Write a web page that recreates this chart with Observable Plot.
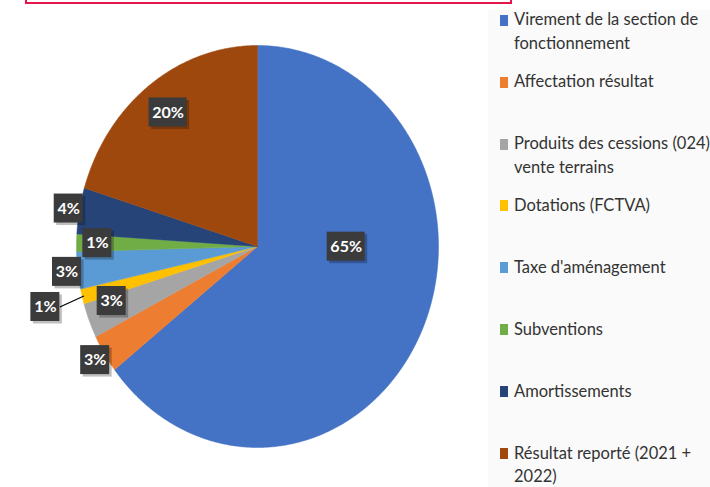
<!DOCTYPE html>
<html><head><meta charset="utf-8">
<script src="https://cdn.jsdelivr.net/npm/d3@7"></script>
<script src="https://cdn.jsdelivr.net/npm/@observablehq/plot@0.6"></script>
<style>
html,body{margin:0;padding:0;background:#fff;}
#wrap{position:relative;width:710px;height:487px;overflow:hidden;font-family:Lato,"Liberation Sans",sans-serif;}
#chart{position:absolute;left:0;top:0;}
#frame{position:absolute;left:25px;top:-22px;width:483px;height:22px;border:2px solid #e4174b;}
#panel{position:absolute;left:488px;top:10px;width:222px;height:477px;background:#fafafa;}
.item{position:absolute;left:500px;display:flex;align-items:flex-start;font-size:16.5px;color:#333;line-height:23.5px;}
.sw{width:8px;height:11px;margin-top:6.5px;margin-right:6px;flex:none;}
.txt{width:196px;}
</style></head>
<body><div id="wrap"><div id="panel"></div><div id="chart"></div><div id="frame"></div></div>
<script>
const categories = [
  "Virement de la section de fonctionnement",
  "Affectation résultat",
  "Produits des cessions (024) vente terrains",
  "Dotations (FCTVA)",
  "Taxe d'aménagement",
  "Subventions",
  "Amortissements",
  "Résultat reporté (2021 + 2022)"
];
const values = [64.5, 3.1, 2.8, 1.2, 3.0, 1.4, 3.7, 20.3];
const colors = ["#4472C4", "#ED7D31", "#A5A5A5", "#FFC000", "#5B9BD5", "#70AD47", "#264478", "#9E480E"];
// label layout (Excel-style manual placement): radius fraction and angle shift in degrees
const labelRadius = [0.49, 1.06, 0.85, 1.21, 1.06, 0.885, 1.06, 0.83];
const labelAngleShift = [-26, 0, 3, 0, 0, 0, 0, 0];

const total = d3.sum(values);
const rad = Math.PI / 180;
let acc = 0;
const slices = values.map((v, i) => {
  const a0 = acc / total * 360; acc += v; const a1 = acc / total * 360;
  return {name: categories[i], value: v, a0, a1, mid: (a0 + a1) / 2, i};
});
const px = a => Math.sin(a * rad), py = a => -Math.cos(a * rad);

const pts = [];
for (const s of slices) {
  pts.push({name: s.name, x: 0, y: 0});
  const n = Math.max(2, Math.ceil((s.a1 - s.a0) / 0.5));
  for (let k = 0; k <= n; ++k) {
    const a = s.a0 + (s.a1 - s.a0) * k / n;
    pts.push({name: s.name, x: px(a), y: py(a)});
  }
  pts.push({name: s.name, x: 0, y: 0});
}

const xr = [76, 438], yr = [45, 447];
const kx = (xr[1] - xr[0]) / 2, ky = (yr[1] - yr[0]) / 2;
const labels = slices.map(s => {
  const a = s.mid + labelAngleShift[s.i], r = labelRadius[s.i];
  const text = Math.round(s.value) + "%";
  const hw = (text.length === 3 ? 19 : 14.5) / kx, hh = 14.5 / ky;
  return {text, x: r * px(a), y: r * py(a), hw, hh, r, mid: s.mid};
});
const leaders = labels.filter(l => l.r > 1.15).map(l => ({
  x1: 0.99 * px(l.mid), y1: 0.99 * py(l.mid), x2: l.x + l.hw, y2: l.y
}));

const chart = Plot.plot({
  width: 710, height: 487, margin: 0,
  x: {domain: [-1, 1], range: xr, axis: null},
  y: {domain: [-1, 1], range: yr, axis: null},
  color: {domain: categories, range: colors},
  style: {background: "transparent"},
  marks: [
    Plot.line(pts, {x: "x", y: "y", z: "name", fill: "name", stroke: "name", strokeWidth: 0.5, curve: "linear"}),
    Plot.link(leaders, {x1: "x1", y1: "y1", x2: "x2", y2: "y2", stroke: "#000", strokeWidth: 1.2}),
    Plot.rect(labels, {x1: d => d.x - d.hw + 2.5 / kx, x2: d => d.x + d.hw + 2.5 / kx, y1: d => d.y - d.hh + 2.5 / ky, y2: d => d.y + d.hh + 2.5 / ky, fill: "#000", fillOpacity: 0.25}),
    Plot.rect(labels, {x1: d => d.x - d.hw, x2: d => d.x + d.hw, y1: d => d.y - d.hh, y2: d => d.y + d.hh, fill: "#3b3b3b"}),
    Plot.text(labels, {x: "x", y: "y", text: "text", fill: "white", fontWeight: "bold", fontSize: 16, fontFamily: "Lato, 'Liberation Sans', sans-serif"})
  ]
});
document.getElementById("chart").appendChild(chart);

const wrap = d3.select("#wrap");
categories.forEach((c, i) => {
  const it = wrap.append("div").attr("class", "item").style("top", (8.25 + i * 61.9) + "px");
  it.append("div").attr("class", "sw").style("background", colors[i]);
  it.append("div").attr("class", "txt").text(c);
});
</script>
</body></html>
